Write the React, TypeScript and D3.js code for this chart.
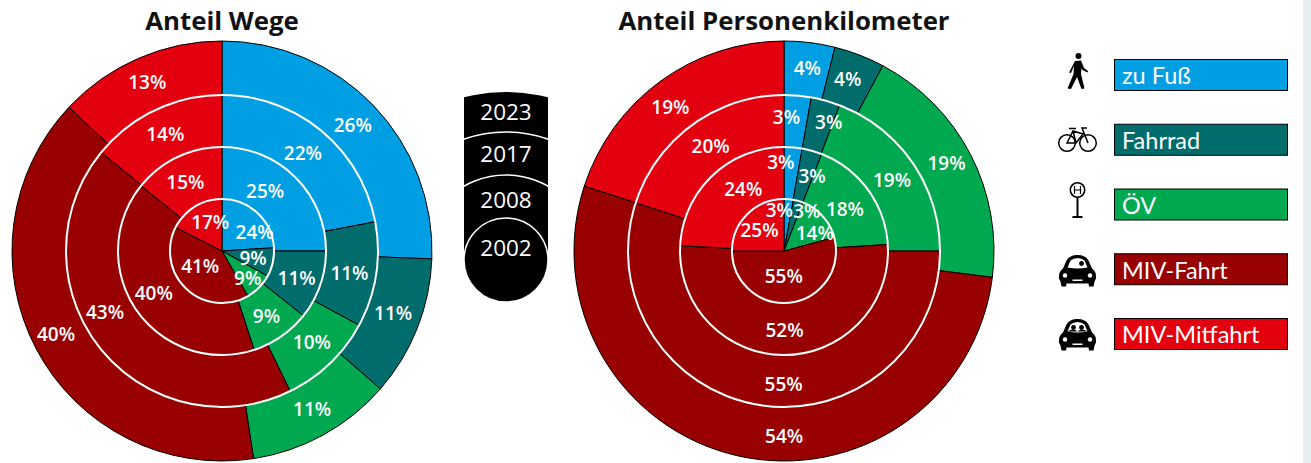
import * as d3 from "d3";

// ring order: inner to outer
const years = ["2002", "2008", "2017", "2023"];
const modes = ["zu Fuß", "Fahrrad", "ÖV", "MIV-Fahrt", "MIV-Mitfahrt"];
const colors = ["#009fe3", "#006c6c", "#00a84f", "#990000", "#e3000f"];

// printed percentages
const wegeLabels = [
  [24, 9, 9, 41, 17],
  [25, 11, 9, 40, 15],
  [22, 11, 10, 43, 14],
  [26, 11, 11, 40, 13],
];
const pkmLabels = [
  [3, 3, 14, 55, 25],
  [3, 3, 18, 52, 24],
  [3, 3, 19, 55, 20],
  [4, 4, 19, 54, 19],
];

// slice sizes as they are drawn (the printed numbers are rounded)
const wege2002 = [24, 9, 8.7, 40.8, 17.5];
const wege2008 = [25, 10.7, 9.3, 40.8, 14.2];
const wege2017 = [22, 10.9, 9.9, 43.1, 14.1];
const wege2023 = [25.6, 10.8, 11.2, 39.4, 13];

const pkm2002 = [2.9, 3, 14.9, 54.2, 25];
const pkm2008 = [2.8, 3.1, 18.1, 51.8, 24.2];
const pkm2017 = [2.8, 3, 19.2, 55, 20];
const pkm2023 = [3.9, 3.9, 19.2, 53, 20];

const WIDTH = 1311;
const HEIGHT = 463;
const FONT = "'Open Sans', sans-serif";
const ringRadii = [52, 104, 156, 210];
const labelRadii = [36, 78, 130, 183];

// hand adjustments of the labels, [ring][slice] -> [dx, dy]
const nudgeWege = [
  [[8, 7], [-4, -1], [0, 2], [3, -11], [7, 2]],
  [[-12, -5], [1, 1], [0, 1], [-4, -2], [-3, 2]],
  [[-2, 2], [-1, 2], [0, -3], [-15, -19], [-1, 1]],
  [[-1, 1], [1, -5], [2, -2], [-4, -2], [-2, -1]],
];
const nudgePkm = [
  [[-8, -5], [13, -5], [4, 6], [-5, -11], [1, 5]],
  [[-10, -11], [7, 0], [-2, 4], [0, 1], [13, -5]],
  [[-9, -4], [10, -4], [1, 3], [20, 5], [3, 0]],
  [[1, -1], [-2, -1], [0, -4], [40, 7], [-6, 4]],
];

const radius = d3.scaleOrdinal<string, number>().domain(years).range(ringRadii);

function Donuts({ cx, title, rings, labels, nudge }: { cx: number; title: string; rings: number[][]; labels: number[][]; nudge: number[][][] }) {
  const pie = d3.pie<number>().sort(null);
  return (
    <g transform={`translate(${cx},251)`}>
      <text y={-221} textAnchor="middle" fontSize={25.8} fontWeight={700} fontFamily={FONT} fill="#111">
        {title}
      </text>
      {rings
        .map((vals, r) => ({ vals, r }))
        .reverse()
        .map(({ vals, r }) => {
          const arc = d3.arc<d3.PieArcDatum<number>>().innerRadius(0).outerRadius(radius(years[r]));
          return (
            <g key={r}>
              {pie(vals).map((d, i) => (
                <path key={i} d={arc(d) ?? ""} fill={colors[i]} stroke="#000" strokeWidth={1} />
              ))}
            </g>
          );
        })}
      {ringRadii.slice(0, 3).map((r) => (
        <circle key={r} r={r} fill="none" stroke="#fff" strokeWidth={2} />
      ))}
      {rings.map((vals, r) => {
        const labelArc = d3.arc<d3.PieArcDatum<number>>().innerRadius(labelRadii[r]).outerRadius(labelRadii[r]);
        return pie(vals).map((d, i) => {
          const [x, y] = labelArc.centroid(d);
          const [dx, dy] = nudge[r][i];
          return (
            <text key={`${r}-${i}`} x={x + dx} y={y + dy} dy="0.36em" textAnchor="middle" fontSize={19} fontWeight={600} fontFamily={FONT} fill="#fff">
              {labels[r][i]}%
            </text>
          );
        });
      })}
    </g>
  );
}

function YearKey() {
  const cy = 260;
  const keyRadii = [42, 85, 128, 168];
  const labelY = [248, 200, 154, 112];
  return (
    <g>
      <defs>
        <clipPath id="yearClip">
          <rect x={464} y={80} width={84} height={230} />
        </clipPath>
        <clipPath id="yearOuter">
          <circle cx={506} cy={cy} r={keyRadii[3]} />
        </clipPath>
      </defs>
      <g clipPath="url(#yearClip)">
        <path d={`M464,${cy}V80H548V${cy}Z`} fill="#000" clipPath="url(#yearOuter)" />
        <circle cx={506} cy={cy} r={keyRadii[0]} fill="#000" />
        {keyRadii.slice(0, 3).map((r) => (
          <circle key={r} cx={506} cy={cy} r={r} fill="none" stroke="#fff" strokeWidth={1.5} />
        ))}
      </g>
      {years.map((y, i) => (
        <text key={y} x={506} y={labelY[i]} dy="0.36em" textAnchor="middle" fontSize={22.5} fontFamily={FONT} fill="#fff">
          {y}
        </text>
      ))}
    </g>
  );
}

function Walker() {
  return (
    <g>
      <circle cx={1078.5} cy={56} r={3} />
      <path d="M1075,61 L1081,60.5 L1084,68 L1088,71 L1087.5,72.5 L1082.5,70 L1081.5,68 L1081,74 L1084.5,88.5 L1081.5,89 L1077,77 L1071,89 L1067.5,88.5 L1073.5,74 L1074,66 L1071,73 L1069,72.5 Z" />
    </g>
  );
}

function Bike() {
  return (
    <g fill="none" stroke="#000" strokeWidth={1.5}>
      <circle cx={1067} cy={143} r={8.3} />
      <circle cx={1088} cy={143} r={8.3} />
      <path d="M1067,143 L1073,131 L1083,134 L1076,143 Z M1073,131 L1076,143 M1088,143 L1082,128 L1087,128 M1069,128.5 L1076,128.5" />
    </g>
  );
}

function BusStop() {
  return (
    <g>
      <circle cx={1077.5} cy={190} r={7.2} fill="none" stroke="#000" strokeWidth={1.6} />
      <path d="M1074.5,186v8M1080.5,186v8M1074.5,190h6" fill="none" stroke="#000" strokeWidth={1.2} />
      <path d="M1076.5,197h2v19h-2z M1072.5,216h10v2h-10z" />
    </g>
  );
}

function Car({ y, passenger }: { y: number; passenger: boolean }) {
  return (
    <g transform={`translate(1077.5,${y})`}>
      <path d="M-18.5,8 Q-19,1 -14.5,-2 L-11,-10 Q-8,-15.5 0,-15.5 Q8,-15.5 11,-10 L14.5,-2 Q19,1 18.5,8 L17,11 L16,16 L11.5,16 L11,13 L-11,13 L-11.5,16 L-16,16 L-17,11 Z" />
      <path d="M-10,-3 L-7,-10 Q-4,-12.5 0,-12.5 Q4,-12.5 7,-10 L10,-3 Q0,-1 -10,-3 Z" fill="#fff" />
      {passenger && <circle cx={-4} cy={-7} r={2.4} />}
      <circle cx={4} cy={-7} r={2.4} />
      {passenger && <path d="M-10,-3 Q-4,-7 0,-3 Q4,-7 10,-3 Z" />}
      <circle cx={-12.5} cy={5} r={2.2} fill="#fff" />
      <circle cx={12.5} cy={5} r={2.2} fill="#fff" />
      <rect x={-5} y={9} width={10} height={1.5} fill="#fff" />
    </g>
  );
}

function Legend() {
  const y = d3.scaleBand().domain(modes).range([59, 59 + 5 * 64.75]).padding(0);
  return (
    <g>
      {modes.map((m, i) => (
        <g key={m} transform={`translate(1114,${y(m)})`}>
          <rect x={0.5} y={0.5} width={173} height={31} fill={colors[i]} stroke="#000" strokeWidth={1} />
          <text x={8} y={17} dy="0.36em" fontSize={23.5} fontFamily="Lato, sans-serif" fill="#fff">
            {m}
          </text>
        </g>
      ))}
      <Walker />
      <Bike />
      <BusStop />
      <Car y={270.5} passenger={false} />
      <Car y={334.5} passenger={true} />
    </g>
  );
}

export default function App() {
  return (
    <svg width={WIDTH} height={HEIGHT} style={{ position: "absolute", left: 0, top: 0 }}>
      <rect width={WIDTH} height={HEIGHT} fill="#fff" />
      <rect x={1303} width={8} height={HEIGHT} fill="#e4eff1" />
      <Donuts cx={222} title="Anteil Wege" rings={[wege2002, wege2008, wege2017, wege2023]} labels={wegeLabels} nudge={nudgeWege} />
      <Donuts cx={784} title="Anteil Personenkilometer" rings={[pkm2002, pkm2008, pkm2017, pkm2023]} labels={pkmLabels} nudge={nudgePkm} />
      <YearKey />
      <Legend />
    </svg>
  );
}
